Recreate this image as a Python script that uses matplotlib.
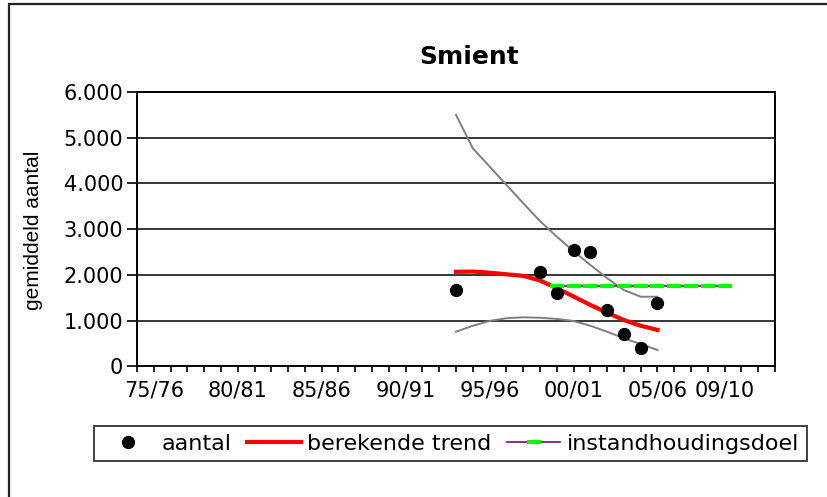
import matplotlib
matplotlib.use('Agg')
import matplotlib.pyplot as plt
from matplotlib.patches import Rectangle

plt.rcParams['font.family'] = ['DejaVu Sans']

# seasons as start year (75/76 -> 1975)
count_years = [1993, 1998, 1999, 2000, 2001, 2002, 2003, 2004, 2005]
counts = [1670, 2060, 1600, 2550, 2510, 1230, 700, 400, 1380]

trend_years = list(range(1993, 2006))
trend = [2070, 2075, 2050, 2015, 1980, 1880, 1710, 1530, 1345, 1175, 1015, 890, 800]
trend_upper = [5500, 4770, 4370, 3970, 3570, 3180, 2840, 2520, 2220, 1930, 1670, 1525, 1525]
trend_lower = [760, 890, 995, 1055, 1075, 1065, 1040, 995, 890, 760, 615, 490, 360]

goal_years = list(range(1999, 2010))
goal = [1750] * len(goal_years)

x_label_years = [1975, 1980, 1985, 1990, 1995, 2000, 2005, 2009]
x_labels = ['75/76', '80/81', '85/86', '90/91', '95/96', '00/01', '05/06', '09/10']
y_ticks = [0, 1000, 2000, 3000, 4000, 5000, 6000]
y_labels = ['0', '1.000', '2.000', '3.000', '4.000', '5.000', '6.000']

fig = plt.figure(figsize=(8.28, 4.97), dpi=100)
ax = fig.add_axes([0.1655, 0.2626, 0.7705, 0.5523])

# chart area border (runs off the right and bottom edge)
fig.patches.append(Rectangle((9 / 828, -0.2), 1.2, 0.2 + 1 - 4 / 497,
                             transform=fig.transFigure, fill=False,
                             edgecolor='#222222', linewidth=1.6))

ax.set_xlim(1974, 2012)
ax.set_ylim(0, 6000)
for y in y_ticks[1:]:
    ax.axhline(y, color='black', linewidth=1.1, zorder=1)

ax.plot(trend_years, trend_upper, color='#808080', linewidth=1.4, zorder=2)
ax.plot(trend_years, trend_lower, color='#808080', linewidth=1.4, zorder=2)
ax.plot(trend_years, trend, color='#ff0000', linewidth=3, zorder=3,
        label='berekende trend')
ax.plot(goal_years, goal, color='#800080', linewidth=1.2, marker='_',
        markersize=10, markeredgewidth=3, markeredgecolor='#00ff00', zorder=4,
        label='instandhoudingsdoel')
ax.plot(count_years, counts, linestyle='none', marker='o', markersize=8.5,
        color='black', zorder=5, label='aantal')

ax.set_yticks(y_ticks)
ax.set_yticklabels(y_labels)
ax.set_xticks(x_label_years)
ax.set_xticklabels(x_labels)
ax.set_xticks(range(1974, 2013), minor=True)
ax.tick_params(axis='y', direction='out', length=7, width=1.2, pad=3,
               labelsize=15)
ax.tick_params(axis='x', which='both', direction='out', length=4, width=1.2,
               pad=6, labelsize=15)
for s in ax.spines.values():
    s.set_color('black')
    s.set_linewidth(1.4)

fig.text(469 / 828, 1 - 64 / 497, 'Smient', ha='center', va='baseline',
         fontsize=18, fontweight='bold')
fig.text(34 / 828, 1 - 230 / 497, 'gemiddeld aantal', rotation=90,
         ha='center', va='center', fontsize=15, family=['Liberation Sans'])

h, l = ax.get_legend_handles_labels()
order = [2, 0, 1]
leg = fig.legend([h[i] for i in order], [l[i] for i in order], loc='center',
                 bbox_to_anchor=(450.5 / 828, 1 - 443.5 / 497), ncol=3,
                 fontsize=16, frameon=True, fancybox=False, numpoints=1,
                 handlelength=2.4, handletextpad=0.3, columnspacing=0.7,
                 borderpad=0.35)
leg.get_frame().set_edgecolor('black')
leg.get_frame().set_linewidth(1.3)

fig.savefig('out.png', dpi=100)
